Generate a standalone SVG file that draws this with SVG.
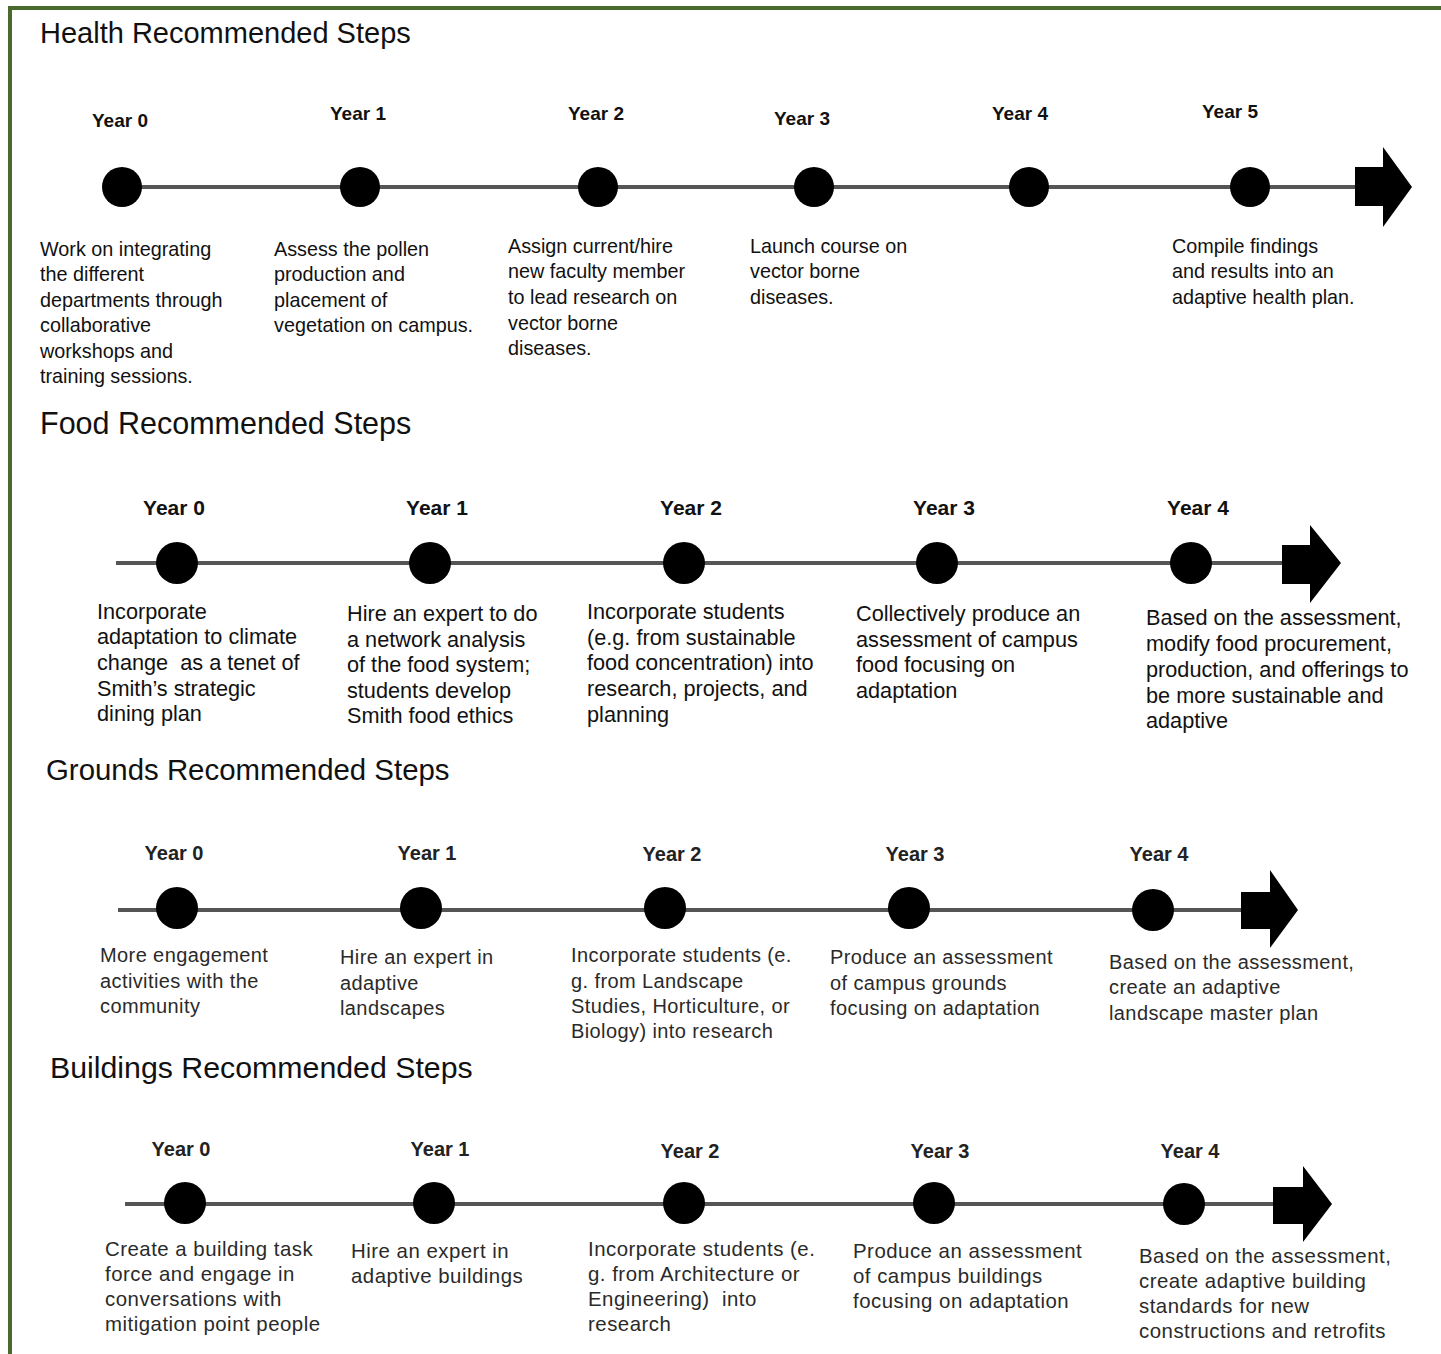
<svg xmlns="http://www.w3.org/2000/svg" width="1441" height="1354" viewBox="0 0 1441 1354">
<style>
.frame{fill:none;stroke:#4a6a2c;stroke-width:4}
.title{font-family:"Liberation Sans",Arial,sans-serif;font-size:29px;fill:#111}
.yr{font-family:"Liberation Sans",Arial,sans-serif;font-weight:bold;font-size:19px;fill:#111;text-anchor:middle}
.yr2{font-family:"Liberation Sans",Arial,sans-serif;font-weight:bold;font-size:21px;fill:#111;text-anchor:middle}
.yr3{font-family:"Liberation Sans",Arial,sans-serif;font-weight:bold;font-size:20px;fill:#222;text-anchor:middle}
.h{font-family:"Liberation Sans",Arial,sans-serif;font-size:19.8px;fill:#111}
.f{font-family:"Liberation Sans",Arial,sans-serif;font-size:21.7px;fill:#111}
.g{font-family:"Liberation Sans",Arial,sans-serif;font-size:20px;letter-spacing:0.4px;fill:#2a2a2a}
.b{font-family:"Liberation Sans",Arial,sans-serif;font-size:20.4px;letter-spacing:0.5px;fill:#2a2a2a}
.line{stroke:#555;stroke-width:4;fill:none}
.dot{fill:#000}
.arr{fill:#000}
</style>
<rect x="0" y="0" width="1441" height="1354" fill="#fff"/>
<rect class="frame" x="10" y="8" width="1445" height="1370"/>

<g id="connectors">
<line class="line" x1="122" y1="187" x2="1360" y2="187"/>
<line class="line" x1="116" y1="563" x2="1286" y2="563"/>
<line class="line" x1="118" y1="910" x2="1245" y2="910"/>
<line class="line" x1="125" y1="1204" x2="1277" y2="1204"/>
<path class="arr" d="M1355,167 H1383 V147 L1412,187 L1383,227 V206 H1355 Z"/>
<path class="arr" d="M1282,545 H1310 V525 L1341,563 L1310,603 V584 H1282 Z"/>
<path class="arr" d="M1241,892 H1270 V870 L1298,910 L1270,948 V929 H1241 Z"/>
<path class="arr" d="M1273,1187 H1303 V1166 L1332,1204 L1303,1242 V1224 H1273 Z"/>
</g>

<g id="health">
<text class="title" x="40" y="43">Health Recommended Steps</text>
<g id="h0"><text class="yr" x="120" y="127">Year 0</text><circle class="dot" cx="122" cy="187" r="20"/>
<text class="h" x="40" y="256">Work on integrating</text><text class="h" x="40" y="281">the different</text><text class="h" x="40" y="307">departments through</text><text class="h" x="40" y="332">collaborative</text><text class="h" x="40" y="358">workshops and</text><text class="h" x="40" y="383">training sessions.</text></g>
<g id="h1"><text class="yr" x="358" y="120">Year 1</text><circle class="dot" cx="360" cy="187" r="20"/>
<text class="h" x="274" y="256">Assess the pollen</text><text class="h" x="274" y="281">production and</text><text class="h" x="274" y="307">placement of</text><text class="h" x="274" y="332">vegetation on campus.</text></g>
<g id="h2"><text class="yr" x="596" y="120">Year 2</text><circle class="dot" cx="598" cy="187" r="20"/>
<text class="h" x="508" y="253">Assign current/hire</text><text class="h" x="508" y="278">new faculty member</text><text class="h" x="508" y="304">to lead research on</text><text class="h" x="508" y="330">vector borne</text><text class="h" x="508" y="355">diseases.</text></g>
<g id="h3"><text class="yr" x="802" y="125">Year 3</text><circle class="dot" cx="814" cy="187" r="20"/>
<text class="h" x="750" y="253">Launch course on</text><text class="h" x="750" y="278">vector borne</text><text class="h" x="750" y="304">diseases.</text></g>
<g id="h4"><text class="yr" x="1020" y="120">Year 4</text><circle class="dot" cx="1029" cy="187" r="20"/></g>
<g id="h5"><text class="yr" x="1230" y="118">Year 5</text><circle class="dot" cx="1250" cy="187" r="20"/>
<text class="h" x="1172" y="253">Compile findings</text><text class="h" x="1172" y="278">and results into an</text><text class="h" x="1172" y="304">adaptive health plan.</text></g>
</g>

<g id="food">
<text class="title" x="40" y="434" style="font-size:30.5px">Food Recommended Steps</text>
<g id="f0"><text class="yr2" x="174" y="515">Year 0</text><circle class="dot" cx="177" cy="563" r="21"/>
<text class="f" x="97" y="619">Incorporate</text><text class="f" x="97" y="644">adaptation to climate</text><text class="f" x="97" y="670" xml:space="preserve">change  as a tenet of</text><text class="f" x="97" y="696">Smith’s strategic</text><text class="f" x="97" y="721">dining plan</text></g>
<g id="f1"><text class="yr2" x="437" y="515">Year 1</text><circle class="dot" cx="430" cy="563" r="21"/>
<text class="f" x="347" y="621">Hire an expert to do</text><text class="f" x="347" y="647">a network analysis</text><text class="f" x="347" y="672">of the food system;</text><text class="f" x="347" y="698">students develop</text><text class="f" x="347" y="723">Smith food ethics</text></g>
<g id="f2"><text class="yr2" x="691" y="515">Year 2</text><circle class="dot" cx="684" cy="563" r="21"/>
<text class="f" x="587" y="619">Incorporate students</text><text class="f" x="587" y="645">(e.g. from sustainable</text><text class="f" x="587" y="670">food concentration) into</text><text class="f" x="587" y="696">research, projects, and</text><text class="f" x="587" y="722">planning</text></g>
<g id="f3"><text class="yr2" x="944" y="515">Year 3</text><circle class="dot" cx="937" cy="563" r="21"/>
<text class="f" x="856" y="621">Collectively produce an</text><text class="f" x="856" y="647">assessment of campus</text><text class="f" x="856" y="672">food focusing on</text><text class="f" x="856" y="698">adaptation</text></g>
<g id="f4"><text class="yr2" x="1198" y="515">Year 4</text><circle class="dot" cx="1191" cy="563" r="21"/>
<text class="f" x="1146" y="625">Based on the assessment,</text><text class="f" x="1146" y="651">modify food procurement,</text><text class="f" x="1146" y="677">production, and offerings to</text><text class="f" x="1146" y="703">be more sustainable and</text><text class="f" x="1146" y="728">adaptive</text></g>
</g>

<g id="grounds">
<text class="title" x="46" y="780" style="font-size:29.4px">Grounds Recommended Steps</text>
<g id="g0"><text class="yr3" x="174" y="860">Year 0</text><circle class="dot" cx="177" cy="908" r="21"/>
<text class="g" x="100" y="962">More engagement</text><text class="g" x="100" y="988">activities with the</text><text class="g" x="100" y="1013">community</text></g>
<g id="g1"><text class="yr3" x="427" y="860">Year 1</text><circle class="dot" cx="421" cy="908" r="21"/>
<text class="g" x="340" y="964">Hire an expert in</text><text class="g" x="340" y="990">adaptive</text><text class="g" x="340" y="1015">landscapes</text></g>
<g id="g2"><text class="yr3" x="672" y="861">Year 2</text><circle class="dot" cx="665" cy="908" r="21"/>
<text class="g" x="571" y="962">Incorporate students (e.</text><text class="g" x="571" y="988">g. from Landscape</text><text class="g" x="571" y="1013">Studies, Horticulture, or</text><text class="g" x="571" y="1038">Biology) into research</text></g>
<g id="g3"><text class="yr3" x="915" y="861">Year 3</text><circle class="dot" cx="909" cy="908" r="21"/>
<text class="g" x="830" y="964">Produce an assessment</text><text class="g" x="830" y="990">of campus grounds</text><text class="g" x="830" y="1015">focusing on adaptation</text></g>
<g id="g4"><text class="yr3" x="1159" y="861">Year 4</text><circle class="dot" cx="1153" cy="910" r="21"/>
<text class="g" x="1109" y="969">Based on the assessment,</text><text class="g" x="1109" y="994">create an adaptive</text><text class="g" x="1109" y="1020">landscape master plan</text></g>
</g>

<g id="buildings">
<text class="title" x="50" y="1078" style="font-size:30.3px">Buildings Recommended Steps</text>
<g id="b0"><text class="yr3" x="181" y="1156">Year 0</text><circle class="dot" cx="185" cy="1203" r="21"/>
<text class="b" x="105" y="1256">Create a building task</text><text class="b" x="105" y="1281">force and engage in</text><text class="b" x="105" y="1306">conversations with</text><text class="b" x="105" y="1331">mitigation point people</text></g>
<g id="b1"><text class="yr3" x="440" y="1156">Year 1</text><circle class="dot" cx="434" cy="1203" r="21"/>
<text class="b" x="351" y="1258">Hire an expert in</text><text class="b" x="351" y="1283">adaptive buildings</text></g>
<g id="b2"><text class="yr3" x="690" y="1158">Year 2</text><circle class="dot" cx="684" cy="1203" r="21"/>
<text class="b" x="588" y="1256">Incorporate students (e.</text><text class="b" x="588" y="1281">g. from Architecture or</text><text class="b" x="588" y="1306" xml:space="preserve">Engineering)  into</text><text class="b" x="588" y="1331">research</text></g>
<g id="b3"><text class="yr3" x="940" y="1158">Year 3</text><circle class="dot" cx="934" cy="1203" r="21"/>
<text class="b" x="853" y="1258">Produce an assessment</text><text class="b" x="853" y="1283">of campus buildings</text><text class="b" x="853" y="1308">focusing on adaptation</text></g>
<g id="b4"><text class="yr3" x="1190" y="1158">Year 4</text><circle class="dot" cx="1184" cy="1204" r="21"/>
<text class="b" x="1139" y="1263">Based on the assessment,</text><text class="b" x="1139" y="1288">create adaptive building</text><text class="b" x="1139" y="1313">standards for new</text><text class="b" x="1139" y="1338">constructions and retrofits</text></g>
</g>
</svg>
